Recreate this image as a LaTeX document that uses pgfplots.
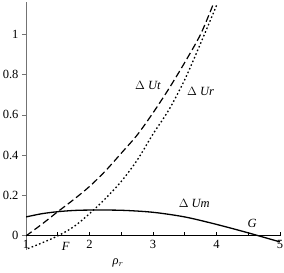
\documentclass[border=0pt]{standalone}
\usepackage{fontspec}
\setmainfont{Liberation Serif}
\usepackage{pgfplots}
\pgfplotsset{compat=1.18}
\begin{document}
\begin{tikzpicture}[x=1pt,y=1pt]
\useasboundingbox (0,0) rectangle (284,273);
\begin{axis}[
  at={(26pt,23pt)}, anchor=south west,
  scale only axis, width=254pt, height=248pt,
  xmin=1, xmax=5, ymin=-0.07, ymax=1.16,
  axis x line=middle, axis y line=left,
  x axis line style={-, black, line width=0.9pt},
  y axis line style={-, black!55, line width=1pt},
  xtick={1,2,3,4,5}, minor xtick={1.5,2.5,3.5,4.5},
  ytick={0,0.2,0.4,0.6,0.8,1},
  yticklabels={0,0.2,0.4,0.6,0.8,1},
  hide obscured x ticks=false, hide obscured y ticks=false,
  xtick align=inside, ytick align=outside,
  major tick length=4pt, minor tick length=3.5pt,
  x tick style={black, line width=0.8pt},
  y tick style={black!55, line width=0.8pt},
  tick label style={font=\fontsize{12.5}{14}\selectfont},
  /pgf/number format/assume math mode=true,
  xticklabel style={yshift=-1pt},
  clip=true,
]
\addplot[black, line width=1.3pt, smooth] coordinates {
(1,0.094) (1.25,0.11) (1.5,0.12) (1.75,0.126) (2,0.128) (2.5,0.127) (3,0.117) (3.5,0.094) (4,0.057) (4.5,0.015) (5,-0.03)};
\addplot[black, line width=1.2pt, dash pattern=on 7pt off 3.5pt, smooth] coordinates {
(1,0) (1.25,0.058) (1.5,0.12) (1.75,0.18) (2,0.245) (2.25,0.322) (2.5,0.41) (2.75,0.5) (3,0.61) (3.25,0.73) (3.5,0.86) (3.75,1.0) (3.95,1.15)};
\addplot[black, line width=1.3pt, dash pattern=on 1.6pt off 2.4pt, smooth] coordinates {
(1.03,-0.063) (1.25,-0.035) (1.5,0) (1.75,0.045) (2,0.11) (2.25,0.185) (2.5,0.27) (2.75,0.375) (3,0.505) (3.25,0.625) (3.5,0.775) (3.75,0.955) (4.01,1.15)};
\node[font=\fontsize{12.5}{14}\selectfont] at (axis cs:2.92,0.748) {$\Delta$ \textit{Ut}};
\node[font=\fontsize{12.5}{14}\selectfont] at (axis cs:3.75,0.714) {$\Delta$ \textit{Ur}};
\node[font=\fontsize{12.5}{14}\selectfont] at (axis cs:3.65,0.163) {$\Delta$ \textit{Um}};
\node[font=\fontsize{12.5}{14}\selectfont] at (axis cs:4.56,0.064) {\textit{G}};
\node[font=\fontsize{12.5}{14}\selectfont] at (axis cs:1.625,-0.054) {\textit{F}};
\end{axis}
\node[font=\fontsize{12.5}{14}\selectfont] at (118,10) {\textit{ρ}$_r$};
\end{tikzpicture}
\end{document}
